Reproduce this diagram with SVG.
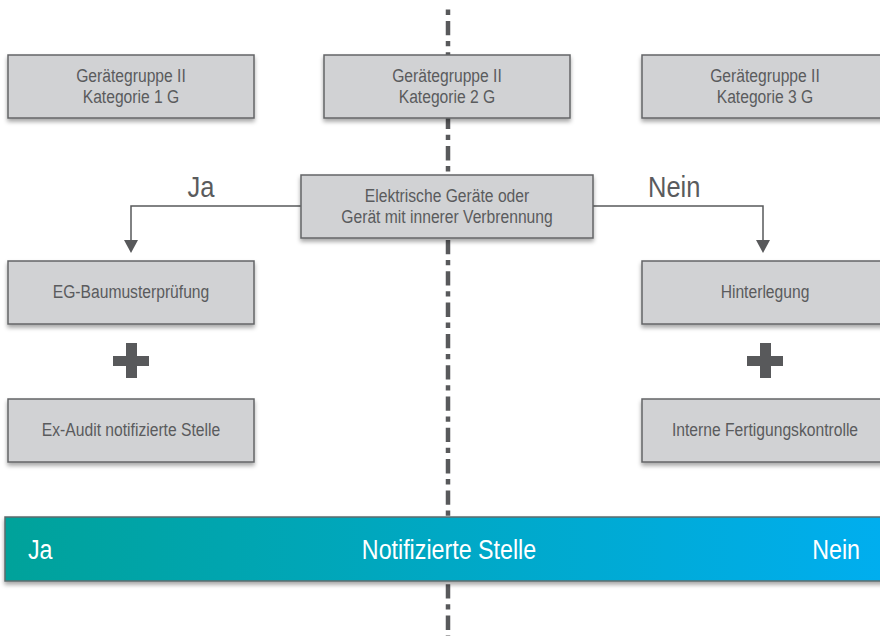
<svg xmlns="http://www.w3.org/2000/svg" width="880" height="638" viewBox="0 0 880 638">
<defs>
<style>
.box{fill:#d1d2d4;stroke:#646567;stroke-width:1.5;filter:url(#sh)}
.t{font-family:"Liberation Sans",Arial,sans-serif;font-size:18px;fill:#5a5b5d;text-anchor:middle}
.lbl{font-family:"Liberation Sans",Arial,sans-serif;font-size:29px;fill:#5a5b5d}
.bt{font-family:"Liberation Sans",Arial,sans-serif;font-size:28px;fill:#ffffff}
.con{fill:none;stroke:#58595b;stroke-width:1.5}
.ah{fill:#58595b}
.plus{fill:#58595b}
</style>
<filter id="sh" x="-10%" y="-20%" width="120%" height="160%">
<feDropShadow dx="0" dy="3" stdDeviation="2" flood-color="#000" flood-opacity="0.35"/>
</filter>
<linearGradient id="grad" x1="0" y1="0" x2="1" y2="0">
<stop offset="0" stop-color="#00a29a"/>
<stop offset="1" stop-color="#00aeef"/>
</linearGradient>
</defs>
<rect width="880" height="638" fill="#ffffff"/>
<line x1="448" y1="9.6" x2="448" y2="636" stroke="#58595b" stroke-width="4.5" stroke-dasharray="5.3 6 14.3 5.7"/>
<g id="connectors">
<path class="con" d="M301,206 H131 V241"/>
<polygon class="ah" points="124,240 138,240 131,253"/>
<path class="con" d="M593,206 H763 V241"/>
<polygon class="ah" points="756,240 770,240 763,253"/>
</g>
<text class="lbl" transform="translate(201 197) scale(0.88 1)" text-anchor="middle">Ja</text>
<text class="lbl" transform="translate(648 197) scale(0.88 1)">Nein</text>
<g id="n1"><rect class="box" x="8" y="55" width="246" height="63"/><text class="t" transform="translate(131 82) scale(0.87 1)">Gerätegruppe II</text><text class="t" transform="translate(131 103) scale(0.87 1)">Kategorie 1 G</text></g>
<g id="n2"><rect class="box" x="324" y="55" width="246" height="63"/><text class="t" transform="translate(447 82) scale(0.87 1)">Gerätegruppe II</text><text class="t" transform="translate(447 103) scale(0.87 1)">Kategorie 2 G</text></g>
<g id="n3"><rect class="box" x="642" y="55" width="246" height="63"/><text class="t" transform="translate(765 82) scale(0.87 1)">Gerätegruppe II</text><text class="t" transform="translate(765 103) scale(0.87 1)">Kategorie 3 G</text></g>
<g id="n4"><rect class="box" x="301" y="175" width="292" height="63"/><text class="t" transform="translate(447 202) scale(0.87 1)">Elektrische Geräte oder</text><text class="t" transform="translate(447 223) scale(0.87 1)">Gerät mit innerer Verbrennung</text></g>
<g id="n5"><rect class="box" x="8" y="261" width="246" height="63"/><text class="t" transform="translate(131 298) scale(0.87 1)">EG-Baumusterprüfung</text></g>
<g id="n6"><rect class="box" x="8" y="399" width="246" height="63"/><text class="t" transform="translate(131 436) scale(0.87 1)">Ex-Audit notifizierte Stelle</text></g>
<g id="n7"><rect class="box" x="642" y="261" width="246" height="63"/><text class="t" transform="translate(765 298) scale(0.87 1)">Hinterlegung</text></g>
<g id="n8"><rect class="box" x="642" y="399" width="246" height="63"/><text class="t" transform="translate(765 436) scale(0.87 1)">Interne Fertigungskontrolle</text></g>
<g id="plus1"><rect class="plus" x="113" y="356" width="36" height="10"/><rect class="plus" x="126" y="343" width="11" height="35"/></g>
<g id="plus2"><rect class="plus" x="747" y="356" width="36" height="10"/><rect class="plus" x="760" y="343" width="11" height="35"/></g>
<g id="bar"><rect x="5" y="517" width="880" height="64" fill="url(#grad)" stroke="#5b6b6d" stroke-width="1.5" filter="url(#sh)"/>
<text class="bt" transform="translate(28 559) scale(0.83 1)">Ja</text>
<text class="bt" transform="translate(449 559) scale(0.83 1)" text-anchor="middle">Notifizierte Stelle</text>
<text class="bt" transform="translate(860 559) scale(0.83 1)" text-anchor="end">Nein</text></g>
</svg>
